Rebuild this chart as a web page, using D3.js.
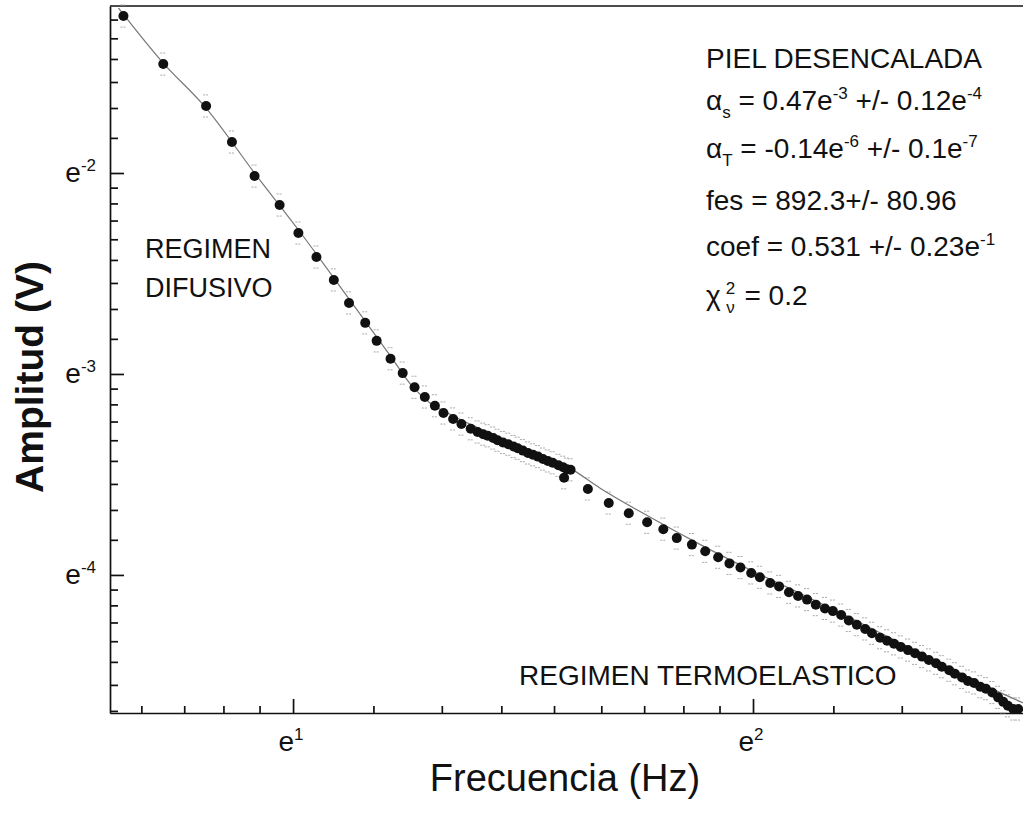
<!DOCTYPE html>
<html>
<head>
<meta charset="utf-8">
<script src="https://cdn.jsdelivr.net/npm/d3@7"></script>
<style>
  html, body { margin: 0; padding: 0; background: #fff; }
  svg text { font-family: "Liberation Sans", Arial, Helvetica, sans-serif; fill: #111; }
</style>
</head>
<body>
<div id="chart"></div>
<script>
const freqHz = [
  1.88, 2.05, 2.25, 2.38, 2.50, 2.64, 2.75, 2.86, 2.97, 3.07, 3.18, 3.26, 3.36, 3.45, 3.54, 3.62,
  3.70, 3.77, 3.85, 3.92, 4.00, 4.06,
  4.11, 4.15, 4.20, 4.24, 4.29, 4.34, 4.39, 4.43, 4.48, 4.53, 4.58, 4.63, 4.68, 4.73, 4.78, 4.84,
  4.89, 4.93, 4.97,
  4.90, 5.16, 5.40, 5.64, 5.87, 6.08, 6.26, 6.47, 6.66, 6.85, 7.02, 7.19, 7.36, 7.50, 7.67, 7.82,
  7.99, 8.15, 8.31, 8.47, 8.64, 8.79, 8.95, 9.10, 9.26, 9.43, 9.57, 9.74, 9.89, 10.04, 10.19, 10.35,
  10.51, 10.67, 10.83, 11.00, 11.14, 11.32, 11.46, 11.64, 11.79, 11.95, 12.11, 12.26, 12.43, 12.59,
  12.73, 12.86, 13.01, 13.15
];
const ampV = [
  0.2955, 0.2327, 0.1889, 0.1579, 0.1333, 0.1154, 0.1004, 0.0891, 0.0795, 0.0709, 0.0642, 0.0587,
  0.0537, 0.0500, 0.0466, 0.0444, 0.0425, 0.0410, 0.0398, 0.0388, 0.0379, 0.0373,
  0.0369, 0.0366, 0.0362, 0.0358, 0.0354, 0.0351, 0.0347, 0.0344, 0.0340, 0.0336, 0.0333, 0.0330,
  0.0326, 0.0323, 0.0320, 0.0316, 0.0313, 0.0310, 0.0309,
  0.0297, 0.0281, 0.0262, 0.0249, 0.0238, 0.0230, 0.0220, 0.0213, 0.0206, 0.0200, 0.0194, 0.0190,
  0.0185, 0.0181, 0.0176, 0.0173, 0.0168, 0.0165, 0.0162, 0.0158, 0.0155, 0.0153, 0.0150, 0.0146,
  0.0143, 0.0140, 0.0137, 0.0134, 0.0132, 0.0130, 0.0128, 0.0126, 0.0124, 0.0122, 0.0120, 0.0118,
  0.0116, 0.0114, 0.0112, 0.0110, 0.0108, 0.0107, 0.0105, 0.0104, 0.0102, 0.00996, 0.00974,
  0.00955, 0.00940, 0.00940
];

// fitted curve (thin grey line)
const fitHz = [1.86, 2.05, 2.25, 2.50, 2.76, 3.08, 3.36, 3.52, 3.66, 3.82, 4.08, 4.45, 4.96,
               5.30, 5.91, 6.59, 7.34, 8.19, 9.13, 10.17, 11.34, 12.37, 13.29];
const fitV = [0.3076, 0.2339, 0.1870, 0.1353, 0.1009, 0.0716, 0.0544, 0.0469, 0.0431, 0.0408,
              0.0379, 0.0346, 0.0312, 0.0282, 0.0244, 0.0213, 0.0188, 0.0167, 0.0148, 0.01306,
              0.01153, 0.01044, 0.00969];

// axes: natural-log decades
const xDecades = [0, 1, 2];        // e^0 .. e^3
const xLabelExp = [1, 2];
const yDecades = [-5, -4, -3, -2]; // e^-5 .. e^-1
const yLabelExp = [-2, -3, -4];
const errLn = 0.055;               // size of the faint error caps

const infoLines = [
  [{t: "PIEL DESENCALADA"}],
  [{t: "\u03b1"}, {t: "s", sub: true}, {t: " = 0.47e"}, {t: "-3", sup: true}, {t: " +/- 0.12e"}, {t: "-4", sup: true}],
  [{t: "\u03b1"}, {t: "T", sub: true}, {t: " = -0.14e"}, {t: "-6", sup: true}, {t: " +/- 0.1e"}, {t: "-7", sup: true}],
  [{t: "fes = 892.3+/- 80.96"}],
  [{t: "coef = 0.531 +/- 0.23e"}, {t: "-1", sup: true}],
  [{t: "\u03c7"}, {t: "2", sup: true, dx: 5}, {t: "\u03bd", sub: true, dx: -9}, {t: " = 0.2", dx: 2}]
];

const W = 1023, H = 830;
const svg = d3.select("#chart").append("svg")
    .attr("width", W)
    .attr("height", H);

const x = d3.scaleLog().base(Math.E)
    .domain([Math.exp(0.602), Math.exp(2.587)])
    .range([110, 1023]);
const y = d3.scaleLog().base(Math.E)
    .domain([Math.exp(-4.687), Math.exp(-1.169)])
    .range([713, 6]);

// Origin-style log ticks: 8 evenly spaced minor ticks inside each decade
const minorTicks = (decades, scale) => {
    const [lo, hi] = d3.extent(scale.domain());
    let out = [];
    decades.forEach(k => {
        const a = Math.exp(k), b = Math.exp(k + 1);
        for (let j = 1; j < 9; j++) out.push(a + j * (b - a) / 9);
    });
    return out.filter(v => v >= lo && v <= hi);
};

const richText = (sel, px, py, parts, size, anchor) => {
    const t = sel.append("text")
        .attr("x", px).attr("y", py)
        .attr("text-anchor", anchor || "start")
        .style("font-size", size + "px");
    let off = 0;
    parts.forEach(p => {
        const target = p.sup ? -Math.round(size * 0.4) : p.sub ? Math.round(size * 0.3) : 0;
        const ts = t.append("tspan").attr("dy", target - off).text(p.t);
        if (p.sup || p.sub) ts.style("font-size", Math.round(size * 0.6) + "px");
        if (p.dx) ts.attr("dx", p.dx);
        off = target;
    });
    return t;
};

/** axes */
const axisG = svg.append("g");

axisG.append("g")
    .attr("transform", `translate(0,${y.range()[0]})`)
    .call(d3.axisBottom(x).tickValues(minorTicks(xDecades, x)).tickSize(-7).tickSizeOuter(0).tickFormat(""))
    .call(g => g.append("g")
        .call(d3.axisBottom(x).tickValues(xLabelExp.map(k => Math.exp(k))).tickSize(-14).tickSizeOuter(0).tickFormat(""))
        .select(".domain").remove());

axisG.append("g")
    .attr("transform", `translate(${x.range()[0]},0)`)
    .call(d3.axisLeft(y).tickValues(minorTicks(yDecades, y)).tickSize(-8).tickSizeOuter(0).tickFormat(""))
    .call(g => g.append("g")
        .call(d3.axisLeft(y).tickValues(yLabelExp.map(k => Math.exp(k))).tickSize(-14).tickSizeOuter(0).tickFormat(""))
        .select(".domain").remove());

axisG.selectAll("path.domain, .tick line")
    .attr("stroke", "#111")
    .attr("stroke-width", 1.7);

// top frame line
svg.append("line")
    .attr("x1", x.range()[0]).attr("x2", x.range()[1])
    .attr("y1", y.range()[1]).attr("y2", y.range()[1])
    .attr("stroke", "#111").attr("stroke-width", 1.7);

// tick labels e^k
xLabelExp.forEach(k => {
    richText(svg, x(Math.exp(k)) - 2, 751, [{t: "e"}, {t: String(k), sup: true}], 28, "middle");
});
yLabelExp.forEach(k => {
    richText(svg, 96, y(Math.exp(k)) + 9, [{t: "e"}, {t: String(k), sup: true}], 28, "end");
});

/** error caps, fit line, points */
const pts = freqHz.map((f, i) => ({f: f, a: ampV[i]}));

const caps = svg.append("g")
    .attr("stroke", "#aaa")
    .attr("stroke-width", 1)
    .attr("stroke-dasharray", "2,1");
[-1, 1].forEach(s => {
    caps.selectAll(null)
        .data(pts)
        .enter().append("line")
        .attr("x1", d => x(d.f) - 3).attr("x2", d => x(d.f) + 3)
        .attr("y1", d => y(d.a * Math.exp(s * errLn)))
        .attr("y2", d => y(d.a * Math.exp(s * errLn)));
});

const fit = fitHz.map((f, i) => [f, fitV[i]]);
svg.append("path")
    .datum(fit)
    .attr("fill", "none")
    .attr("stroke", "#777")
    .attr("stroke-width", 1.2)
    .attr("d", d3.line().curve(d3.curveMonotoneX).x(d => x(d[0])).y(d => y(d[1])));

svg.append("g")
    .selectAll("circle")
    .data(pts)
    .enter().append("circle")
    .attr("cx", d => x(d.f))
    .attr("cy", d => y(d.a))
    .attr("r", 5)
    .attr("fill", "#111");

/** titles & annotations */
svg.append("text")
    .attr("transform", "translate(43,377) rotate(-90)")
    .attr("text-anchor", "middle")
    .style("font-size", "39px")
    .style("font-weight", "bold")
    .text("Amplitud (V)");

svg.append("text")
    .attr("x", 565).attr("y", 791)
    .attr("text-anchor", "middle")
    .style("font-size", "38px")
    .text("Frecuencia (Hz)");

svg.append("text").attr("x", 145).attr("y", 258).style("font-size", "27px").text("REGIMEN");
svg.append("text").attr("x", 145).attr("y", 297).style("font-size", "27px").text("DIFUSIVO");
svg.append("text").attr("x", 519).attr("y", 685).style("font-size", "28px").text("REGIMEN TERMOELASTICO");

const infoY = [68, 110, 158, 210, 256, 305];
infoLines.forEach((parts, i) => richText(svg, 706, infoY[i], parts, 28));
</script>
</body>
</html>
